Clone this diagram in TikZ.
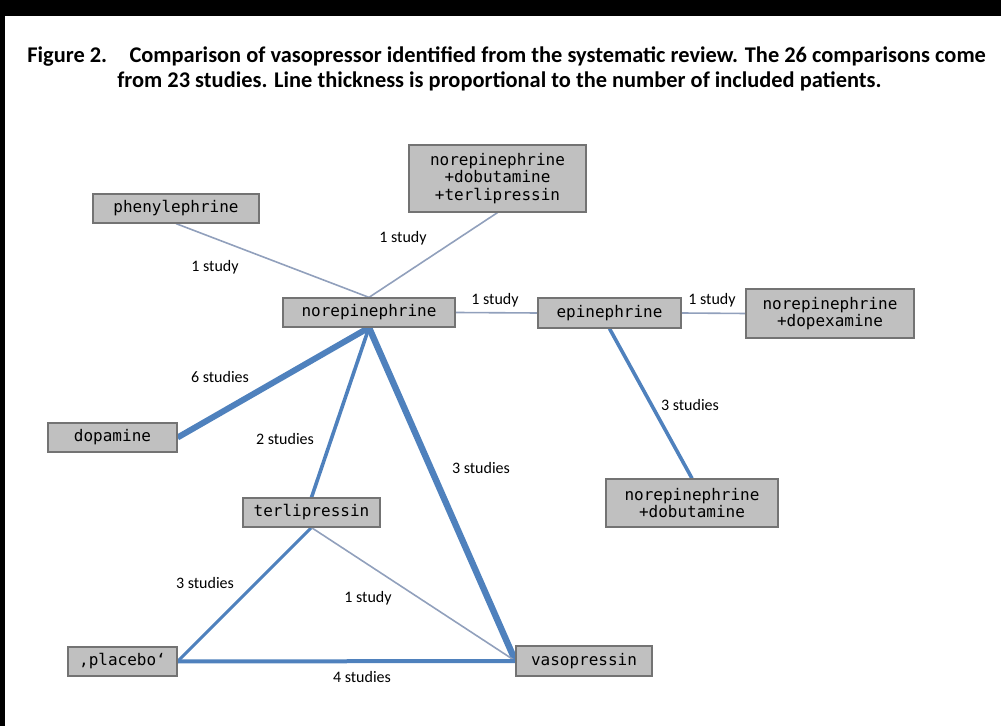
\documentclass[tikz,border=0pt]{standalone}
\usepackage{fontspec}
\setmainfont{Carlito}
\newfontfamily\drugfont{DejaVu Sans Mono}
\usepackage{tikz}
\usetikzlibrary{positioning}
\usetikzlibrary{backgrounds}
\definecolor{linkblue}{RGB}{79,129,189}
\definecolor{linkgrey}{RGB}{145,160,188}
\definecolor{boxfill}{RGB}{192,192,192}
\definecolor{boxline}{RGB}{115,115,115}
\tikzset{drug/.style={draw=boxline,fill=boxfill,line width=0.6pt,inner sep=0pt,minimum height=14.5pt,align=center,font=\drugfont\fontsize{8}{8.6}\selectfont},
lbl/.style={font=\fontsize{8}{9}\selectfont,inner sep=0pt},
onestudy/.style={draw=linkgrey,line width=0.8pt},
studies/.style={draw=linkblue,line width=#1}}

\begin{document}
\begin{tikzpicture}[x=0.5pt,y=-0.5pt]
\useasboundingbox (0,0) rectangle (1001,726);
\fill[black] (0,0) rectangle (1001,16);
\fill[black] (0,0) rectangle (5,726);
\node[anchor=base west,inner sep=0pt,font=\bfseries\fontsize{11.2}{13}\selectfont] (title1) at (27,63) {Figure 2.\quad Comparison of vasopressor identified from the systematic review. The 26 comparisons come};
\node[anchor=base west,inner sep=0pt,font=\bfseries\fontsize{11.2}{13}\selectfont] (title2) at (117,88) {from 23 studies. Line thickness is proportional to the number of included patients.};

\node[drug,minimum width=83pt] (phen) at (176,208.5) {phenylephrine};
\node[drug,minimum width=88.5pt,minimum height=33.5pt] (nedt) at (497.5,178.5) {norepinephrine\\+dobutamine\\+terlipressin};
\node[drug,minimum width=86pt] (ne) at (369,312.5) {norepinephrine};
\node[drug,minimum width=71.5pt,minimum height=15pt] (epi) at (609.5,313) {epinephrine};
\node[drug,minimum width=84pt,minimum height=24.5pt] (nedx) at (830,313.5) {norepinephrine\\+dopexamine};
\node[drug,minimum width=86pt,minimum height=24pt] (nedb) at (692,503) {norepinephrine\\+dobutamine};
\node[drug,minimum width=64.5pt] (dopa) at (112.5,437.5) {dopamine};
\node[drug,minimum width=68.5pt] (terli) at (311.5,512.5) {terlipressin};
\node[drug,minimum width=54.5pt] (plac) at (122.5,661.5) {‚placebo‘};
\node[drug,minimum width=68pt,minimum height=15pt] (vaso) at (584,661) {vasopressin};

\begin{scope}[on background layer]
\draw[onestudy] (phen.south) -- (ne.north);
\draw[onestudy] (nedt.south) -- (ne.north);
\draw[onestudy] (ne.east) -- (epi.west);
\draw[onestudy] (epi.east) -- (nedx.west);
\draw[studies=1.8pt] (epi.south) -- (nedb.north);
\draw[studies=3pt] (ne.south) -- (dopa.east);
\draw[studies=1.8pt] (ne.south) -- (terli.north);
\draw[studies=3.2pt] (ne.south) -- (vaso.west);
\draw[studies=1.5pt] (terli.south) -- (plac.east);
\draw[onestudy] (terli.south) -- (vaso.west);
\draw[studies=2pt] (plac.east) -- (vaso.west);
\end{scope}

\node[lbl] (l1) at (215,267) {1 study};
\node[lbl] (l2) at (403,238) {1 study};
\node[lbl] (l3) at (495,300) {1 study};
\node[lbl] (l4) at (712,300) {1 study};
\node[lbl] (l5) at (690,405) {3 studies};
\node[lbl] (l6) at (481,468) {3 studies};
\node[lbl] (l7) at (220,377) {6 studies};
\node[lbl] (l8) at (285,439) {2 studies};
\node[lbl] (l9) at (205,583) {3 studies};
\node[lbl] (l10) at (368,598) {1 study};
\node[lbl] (l11) at (362,677) {4 studies};
\end{tikzpicture}
\end{document}
